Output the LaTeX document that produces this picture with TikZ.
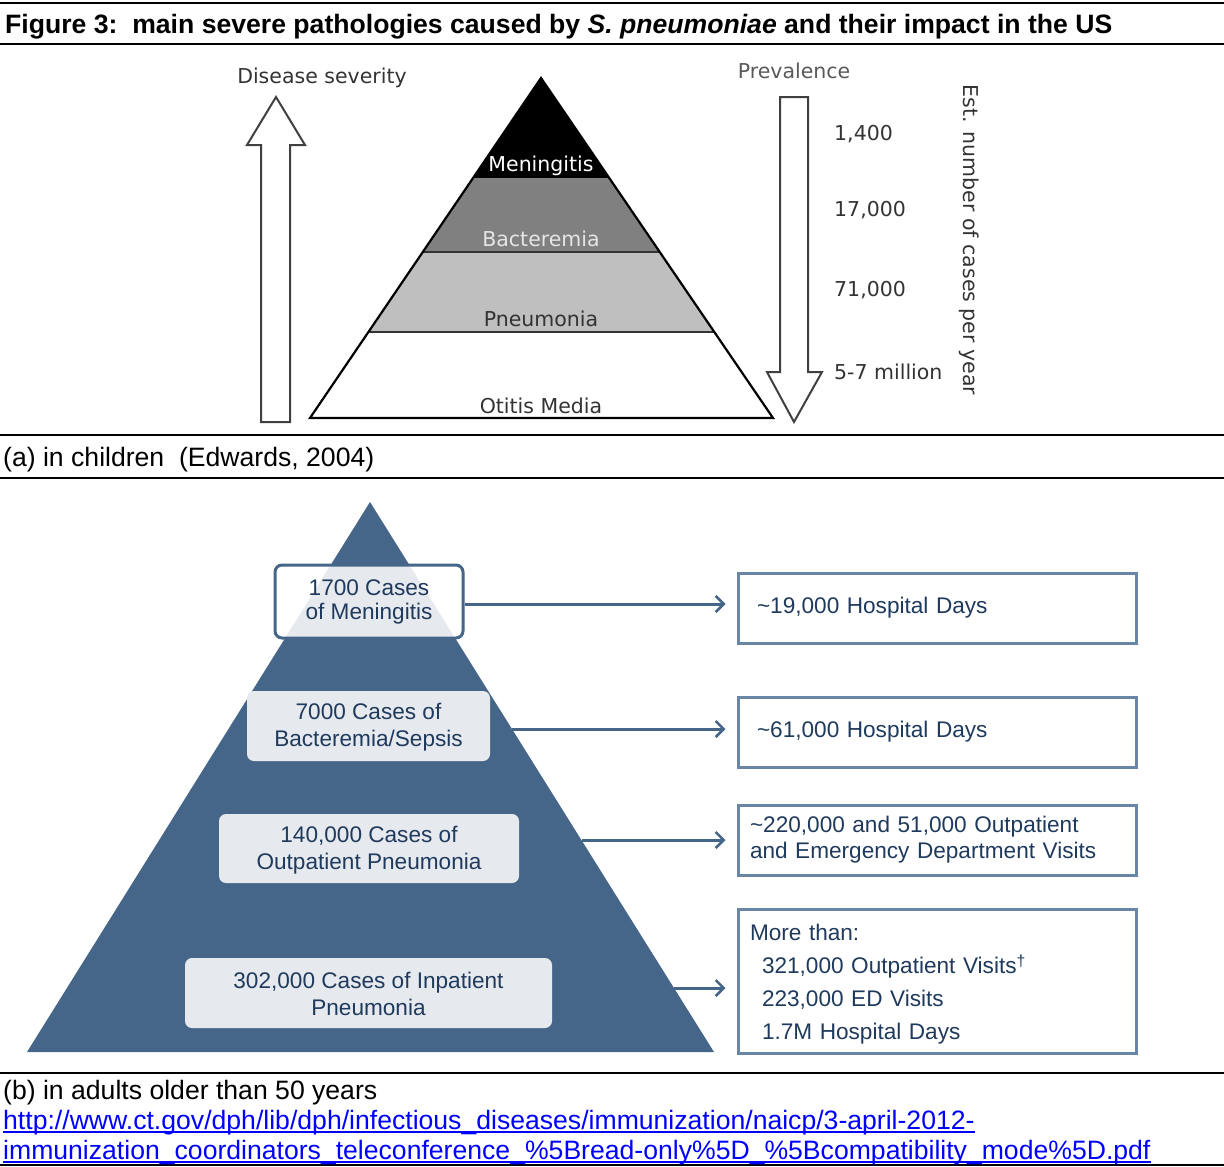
\documentclass[tikz,border=0pt]{standalone}
\usepackage{fontspec}
\setmainfont{Liberation Sans}
\newfontfamily\scanfont{DejaVu Sans}
\usetikzlibrary{positioning,arrows.meta}
\definecolor{slate}{HTML}{456688}
\definecolor{slateline}{HTML}{6A86A6}
\definecolor{navytext}{HTML}{1F3A5C}
\definecolor{boxfill}{HTML}{E6EAEF}
\definecolor{linkblue}{HTML}{0000FF}
\begin{document}
\begin{tikzpicture}[x=1pt,y=-1pt,
    rule/.style={line width=2.6pt},
    captext/.style={anchor=base west,inner sep=0pt,font=\fontsize{26.6}{30}\selectfont},
    scan/.style={inner sep=0pt,font=\scanfont\fontsize{20.5}{24}\selectfont,text=black!80},
    hollow/.style={draw=black!75,line width=2pt,fill=white,line join=miter},
    case/.style={rounded corners=7pt,fill=boxfill,text=navytext,align=center,inner sep=0pt,
        font=\fontsize{22.6}{27}\selectfont},
    impact/.style={draw=slateline,line width=3pt,text=navytext,align=left,inner xsep=12pt,
        text width=374pt,minimum height=70pt,font=\fontsize{22.6}{26}\selectfont},
    link/.style={draw=slate,line width=3pt,shorten >=11pt,
        -{Straight Barb[length=8pt,width=16pt,line width=2.5pt]}}
]
\useasboundingbox (0,0) rectangle (1224,1167);

% rules and captions
\foreach \y in {3,44,435,478,1073,1165}
    \draw[rule] (0,\y) -- (1224,\y);
\node[captext,font=\bfseries\fontsize{26.6}{30}\selectfont] (title) at (5,33)
    {Figure 3:\ \ main severe pathologies caused by \textit{S. pneumoniae} and their impact in the US};
\node[captext] (capa) at (3,466) {(a) in children\ \ (Edwards, 2004)};
\node[captext] (capb) at (3,1099) {(b) in adults older than 50 years};
\node[captext,text=linkblue] (url1) at (3,1129)
    {http://www.ct.gov/dph/lib/dph/infectious\_diseases/immunization/naicp/3-april-2012-};
\node[captext,text=linkblue] (url2) at (3,1159)
    {immunization\_coordinators\_teleconference\_\%5Bread-only\%5D\_\%5Bcompatibility\_mode\%5D.pdf};
\draw[linkblue,line width=1.6pt] ([yshift=-3pt]url1.base west) -- ([yshift=-3pt]url1.base east);
\draw[linkblue,line width=1.6pt] ([yshift=-3pt]url2.base west) -- ([yshift=-3pt]url2.base east);

% (a) children pyramid
\coordinate (atop) at (541,78);
\coordinate (aleft) at (310,418);
\coordinate (aright) at (773,418);
\begin{scope}
    \clip (atop) -- (aleft) -- (aright) -- cycle;
    \foreach \ya/\yb/\tone in {60/178/100,178/252/50,252/332/25}
        \fill[black!\tone] (300,\ya) rectangle (800,\yb);
    \draw[black!80,line width=1.2pt] (300,252) -- (800,252) (300,332) -- (800,332);
\end{scope}
\draw[line width=2.2pt,line join=miter] (atop) -- (aleft) -- (aright) -- cycle;
\node[scan,text=white] (men) at (541,166) {Meningitis};
\node[scan,text=black!10] (bac) at (541,239) {Bacteremia};
\node[scan] (pne) at (541,319) {Pneumonia};
\node[scan] (oti) at (541,406) {Otitis Media};

\draw[hollow] (261,422) -- (261,145) -- (247,145) -- (276,97) -- (305,145) -- (290,145) -- (290,422) -- cycle;
\draw[hollow] (780,97) -- (808,97) -- (808,372) -- (822,372) -- (794,422) -- (767,372) -- (780,372) -- cycle;
\node[scan] (severity) at (322,78) {Disease severity};
\node[scan,text=black!65] (prev) at (794,71) {Prevalence};
\node[scan,anchor=west] (n1) at (834,134) {1,400};
\node[scan,anchor=west] (n2) at (834,210) {17,000};
\node[scan,anchor=west] (n3) at (834,290) {71,000};
\node[scan,anchor=west] (n4) at (834,372) {5-7 million};
\node[scan,rotate=-90] (est) at (969,240) {Est. number of cases per year};

% (b) adults pyramid
\coordinate (ptop) at (370,502);
\coordinate (pleft) at (27,1052);
\coordinate (pright) at (714,1052);
\fill[slate] (ptop) -- (pleft) -- (pright) -- cycle;

\node[case,fill=white,draw=slate,line width=3pt,minimum width=188pt,minimum height=73pt,
    font=\fontsize{22.6}{24}\selectfont,
    path picture={\fill[boxfill] (ptop) -- (pleft) -- (pright) -- cycle;}]
    (c1) at (369,601.5) {\strut1700 Cases\\of Meningitis};
\node[case,minimum width=243pt,minimum height=70pt] (c2) at (368.5,726) {\strut7000 Cases of\\Bacteremia/Sepsis};
\node[case,minimum width=300pt,minimum height=69pt] (c3) at (369,848.5) {\strut140,000 Cases of\\Outpatient Pneumonia};
\node[case,minimum width=367pt,minimum height=70pt] (c4) at (368.5,993) {\strut302,000 Cases of Inpatient\\Pneumonia};

\node[impact] (r1) at (937,608) {\hspace*{7pt}\textasciitilde19,000 Hospital Days\strut};
\node[impact] (r2) at (937,732) {\hspace*{7pt}\textasciitilde61,000 Hospital Days\strut};
\node[impact] (r3) at (937,840) {\textasciitilde220,000 and 51,000 Outpatient\\and Emergency Department Visits};
\node[impact,minimum height=144pt,font=\fontsize{22.6}{33}\selectfont] (r4) at (937,981)
    {\strut More than:\\\hspace*{12pt}321,000 Outpatient Visits\textsuperscript{\textdagger}\\
     \hspace*{12pt}223,000 ED Visits\\\hspace*{12pt}1.7M Hospital Days};

\coordinate (e2) at (512,729);
\coordinate (e3) at (582,840);
\coordinate (e4) at (674,988);
\draw[link] (c1.east |- 0,604) -- (r1.west |- 0,604);
\draw[link] (e2) -- (e2 -| r2.west);
\draw[link] (e3) -- (e3 -| r3.west);
\draw[link] (e4) -- (e4 -| r4.west);
\end{tikzpicture}
\end{document}
